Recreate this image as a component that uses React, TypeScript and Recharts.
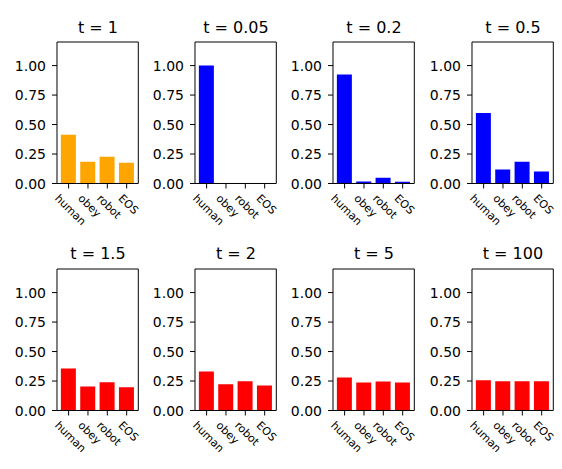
import React from 'react';
import { BarChart, Bar, XAxis, YAxis } from 'recharts';

const categories = ['human', 'obey', 'robot', 'EOS'];
const titles = ['t = 1', 't = 0.05', 't = 0.2', 't = 0.5', 't = 1.5', 't = 2', 't = 5', 't = 100'];
const yTicks = [0, 0.25, 0.5, 0.75, 1.0];

const t1 = [0.413, 0.185, 0.227, 0.177];
const t005 = [1.0, 0.0, 0.0, 0.0];
const t02 = [0.925, 0.017, 0.048, 0.015];
const t05 = [0.598, 0.118, 0.185, 0.101];
const t15 = [0.357, 0.204, 0.240, 0.197];
const t2 = [0.331, 0.222, 0.247, 0.213];
const t5 = [0.280, 0.238, 0.246, 0.238];
const t100 = [0.256, 0.248, 0.249, 0.248];

const seriesValues = [t1, t005, t02, t05, t15, t2, t5, t100];
const colors = ['#FFA500', '#0000FF', '#0000FF', '#0000FF', '#FF0000', '#FF0000', '#FF0000', '#FF0000'];

const FONT = "'DejaVu Sans', sans-serif";
const plotLefts = [57.3, 195.3, 333.3, 472.3];
const plotTops = [41.5, 268.5];
const plotW = 81.3;
const plotH = 141.5;
const yAxisW = 57;

const labelWidths: Record<string, number> = {
  human: 3.489,
  obey: 2.454,
  robot: 2.662,
  EOS: 2.054,
};

const XTick = (props: any) => {
  const { x, y, payload } = props;
  const fs = 11;
  const c = 0.7071;
  const label = String(payload.value);
  const w = (labelWidths[label] ?? 0.6 * label.length) * fs;
  const a = 0.76 * fs;
  const d = 0.24 * fs;
  const top = y + 2.5;
  const oy = top + a * c;
  const ox = x + 1.2 - ((w + a - d) * c) / 2;
  return (
    <text
      x={ox}
      y={oy}
      textAnchor="start"
      fontSize={fs}
      fontFamily={FONT}
      fill="#000"
      transform={`rotate(45, ${ox}, ${oy})`}
    >
      {label}
    </text>
  );
};

const YTick = (props: any) => {
  const { x, y, payload } = props;
  const fs = 14;
  const v = Number(payload.value);
  return (
    <text
      x={x - 4}
      y={y + 0.365 * fs}
      textAnchor="end"
      fontSize={fs}
      fontFamily={FONT}
      fill="#000"
    >
      {v.toFixed(2)}
    </text>
  );
};

function Panel({ idx }: { idx: number }) {
  const col = idx % 4;
  const row = Math.floor(idx / 4);
  const data = categories.map((c, i) => ({ name: c, value: seriesValues[idx][i] }));
  const marginTop = 10;
  const marginRight = 4;
  const xAxisH = 50;
  const W = yAxisW + plotW + 1 + marginRight;
  const H = marginTop + 1 + plotH + xAxisH + 2;
  const left = plotLefts[col] - yAxisW;
  const top = plotTops[row] - marginTop - 1;
  return (
    <div style={{ position: 'absolute', left, top, width: W, height: H }}>
      <BarChart
        width={W}
        height={H}
        data={data}
        margin={{ top: marginTop, right: marginRight, left: 0, bottom: 2 }}
        barCategoryGap="10%"
      >
        <XAxis
          dataKey="name"
          type="category"
          height={xAxisH}
          interval={0}
          tickSize={5}
          tickMargin={2}
          tick={<XTick />}
          axisLine={{ stroke: '#000', strokeWidth: 1 }}
          tickLine={{ stroke: '#000', strokeWidth: 1 }}
          padding={{ left: 1.94, right: 1.94 }}
        />
        <XAxis
          xAxisId="top"
          dataKey="name"
          orientation="top"
          height={1}
          tick={false}
          tickLine={false}
          axisLine={{ stroke: '#000', strokeWidth: 1 }}
        />
        <YAxis
          type="number"
          domain={[0, 1.2]}
          ticks={yTicks}
          width={yAxisW}
          tickSize={5}
          tickMargin={2}
          interval={0}
          allowDataOverflow
          tick={<YTick />}
          axisLine={{ stroke: '#000', strokeWidth: 1 }}
          tickLine={{ stroke: '#000', strokeWidth: 1 }}
        />
        <YAxis
          yAxisId="right"
          orientation="right"
          type="number"
          domain={[0, 1.2]}
          width={1}
          tick={false}
          tickLine={false}
          axisLine={{ stroke: '#000', strokeWidth: 1 }}
        />
        <Bar dataKey="value" fill={colors[idx]} isAnimationActive={false} />
      </BarChart>
    </div>
  );
}

export default function App() {
  const titleBaselines = [32.7, 258.5];
  return (
    <div
      style={{
        position: 'absolute',
        left: 0,
        top: 0,
        width: 562,
        height: 469,
        background: '#fff',
        overflow: 'hidden',
      }}
    >
      <svg width={562} height={469} style={{ position: 'absolute', left: 0, top: 0 }}>
        {titles.map((t, i) => (
          <text
            key={t}
            x={plotLefts[i % 4] + plotW / 2}
            y={titleBaselines[Math.floor(i / 4)]}
            textAnchor="middle"
            fontSize={16}
            fontFamily={FONT}
            fill="#000"
          >
            {t}
          </text>
        ))}
      </svg>
      {titles.map((t, i) => (
        <Panel key={t} idx={i} />
      ))}
    </div>
  );
}
